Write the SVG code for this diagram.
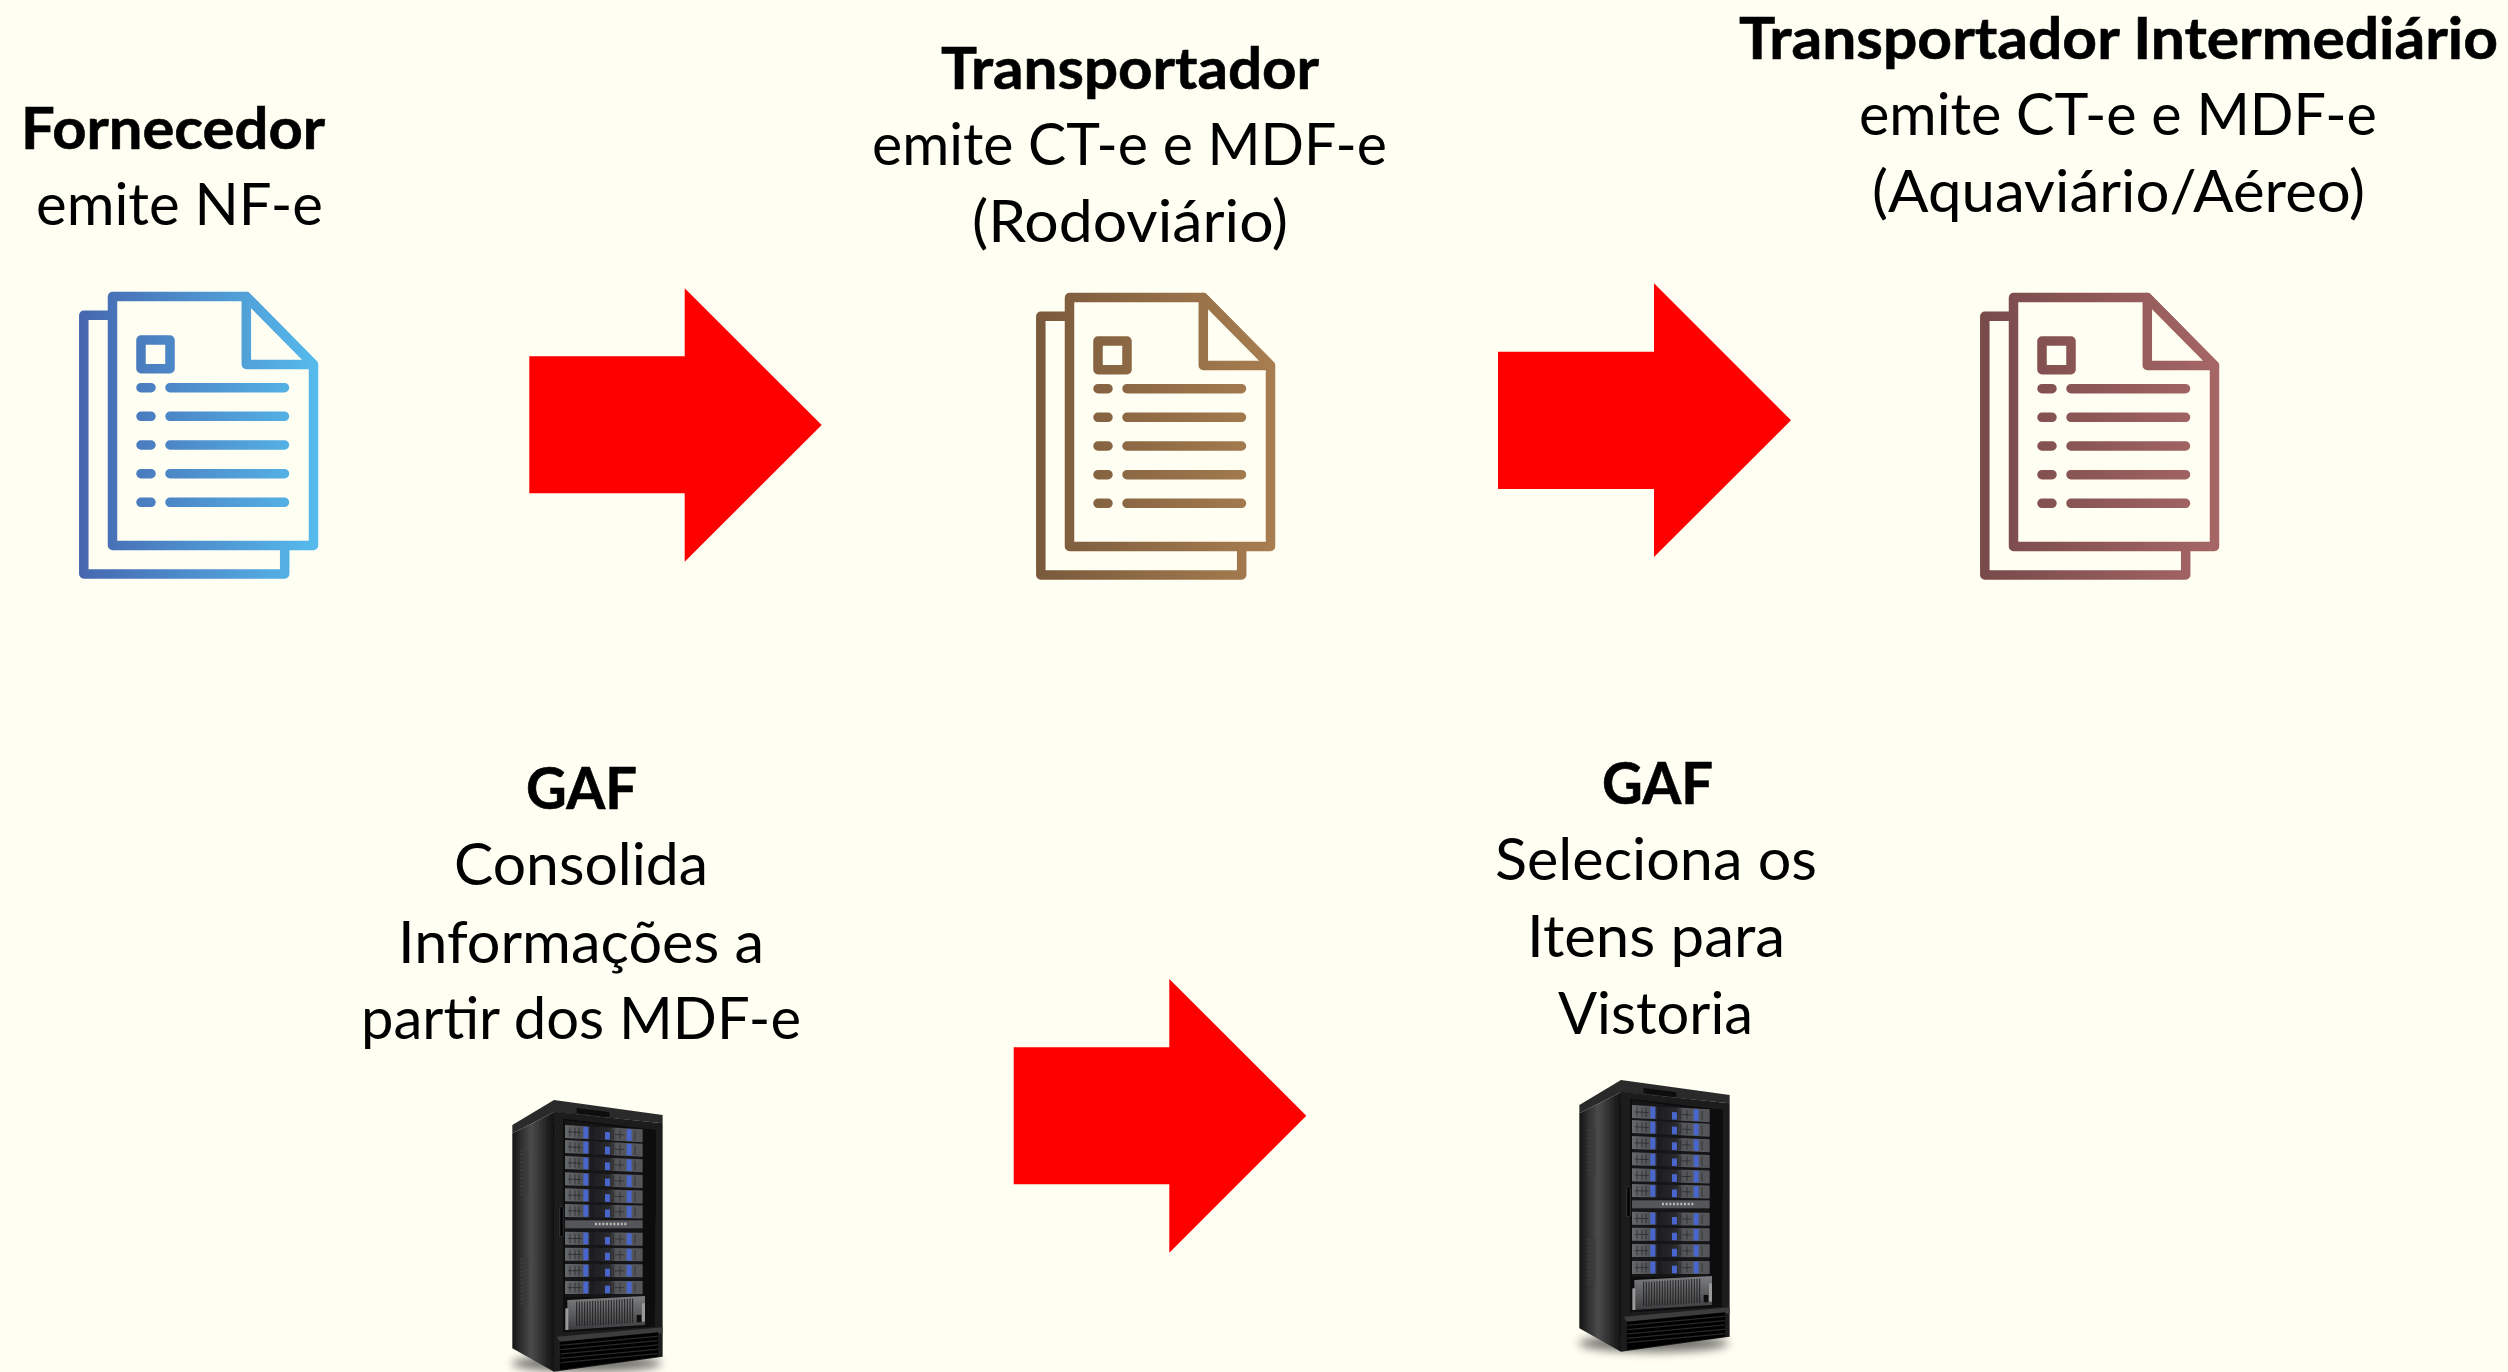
<svg xmlns="http://www.w3.org/2000/svg" xmlns:xlink="http://www.w3.org/1999/xlink" width="2508" height="1372" viewBox="0 0 2508 1372">
<style>
text{font-family:"Lato","Carlito","Open Sans",sans-serif;font-size:58px;fill:#000}
.b{font-weight:700;stroke:#000;stroke-width:.6px}
.arrow{fill:#FF0000}
.doc{fill:none;stroke-width:9.5;stroke-linejoin:round;stroke-linecap:round}
</style>
<defs>
<linearGradient id="gBlue" gradientUnits="userSpaceOnUse" x1="79" y1="0" x2="318" y2="0"><stop offset="0" stop-color="#4667AF"/><stop offset="1" stop-color="#56BBEC"/></linearGradient>
<linearGradient id="gBrown" gradientUnits="userSpaceOnUse" x1="79" y1="0" x2="318" y2="0"><stop offset="0" stop-color="#7A5A3C"/><stop offset="1" stop-color="#A87E50"/></linearGradient>
<linearGradient id="gRose" gradientUnits="userSpaceOnUse" x1="79" y1="0" x2="318" y2="0"><stop offset="0" stop-color="#784A4A"/><stop offset="1" stop-color="#A66666"/></linearGradient>
<g id="doc" class="doc">
<path d="M108,315.3H83.8V574H284.7V550"/>
<path d="M246.3,296.5H112.5V545.5H313.5V364.5Z"/>
<path d="M246.3,296.5L313.5,364.5H246.3Z"/>
<rect x="141" y="340" width="29" height="28.7"/>
<path d="M141,387.7H151M170,387.7H284.5M141,416.3H151M170,416.3H284.5M141,445H151M170,445H284.5M141,473.7H151M170,473.7H284.5M141,502.3H151M170,502.3H284.5"/>
</g>
<linearGradient id="side" x1="0" x2="1" y1="0" y2="0"><stop offset="0" stop-color="#161616"/><stop offset=".45" stop-color="#4b4b4b"/><stop offset="1" stop-color="#111"/></linearGradient>
<linearGradient id="rowG" x1="0" x2="1" y1="0" y2="0"><stop offset="0" stop-color="#66696c"/><stop offset=".28" stop-color="#4b4d50"/><stop offset=".33" stop-color="#1c1d20"/><stop offset=".58" stop-color="#2a2b2e"/><stop offset=".66" stop-color="#55575a"/><stop offset="1" stop-color="#55575a"/></linearGradient>
<linearGradient id="psu" x1="0" x2="0" y1="0" y2="1"><stop offset="0" stop-color="#7c7e80"/><stop offset="1" stop-color="#3c3d3f"/></linearGradient>
<filter id="soft" x="-5%" y="-5%" width="110%" height="110%"><feGaussianBlur stdDeviation="2"/></filter>
<filter id="shadow" x="-30%" y="-100%" width="160%" height="300%"><feGaussianBlur stdDeviation="14"/></filter>
<g id="row">
<rect width="233" height="39" fill="url(#rowG)"/>
<path d="M15,6V34M30,6V34M42,6V34M90,6V34M145,6V34M165,6V34M210,6V34M8,20H50M150,20H178" stroke="#222" stroke-width="2"/>
<rect x="55" y="2" width="15" height="35" fill="#4A66CC"/>
<rect x="120" y="14" width="15" height="23" fill="#4A66CC"/>
<rect x="185" y="2" width="15" height="35" fill="#4A66CC"/>
</g>
<g id="vent" fill="#3a3a3a"><rect width="24" height="7"/><rect y="12" width="24" height="7"/><rect y="24" width="24" height="7"/><rect y="36" width="24" height="7"/><rect y="48" width="24" height="7"/><rect y="60" width="24" height="7"/><rect y="72" width="24" height="7"/><rect y="84" width="24" height="7"/><rect y="96" width="24" height="7"/><rect y="108" width="24" height="7"/><rect y="120" width="24" height="7"/><rect y="132" width="24" height="7"/></g>
<g id="rack">
<ellipse cx="320" cy="850" rx="225" ry="26" fill="#000" opacity=".55" filter="url(#shadow)"/>
<g filter="url(#soft)">
<polygon points="97,135 222,60 548,105 548,130 222,97 97,160" fill="#2b2b2b"/>
<polygon points="290,84 388,97 388,112 290,100" fill="#070707"/>
<polygon points="97,160 222,97 222,875 97,805" fill="url(#side)"/>
<use href="#vent" transform="translate(121,208)"/>
<use href="#vent" transform="translate(121,535)"/>
<polygon points="222,95 548,130 548,830 222,875" fill="#1c1c1c"/>
<polygon points="250,116 528,150 525,740 250,757" fill="#0a0a0b"/>
<polygon points="255,120 488,150 488,650 255,652" fill="#141416"/>
<use href="#row" transform="translate(255,135) skewY(3.2)"/>
<use href="#row" transform="translate(255,180) skewY(2.8)"/>
<use href="#row" transform="translate(255,228) skewY(2.4)"/>
<use href="#row" transform="translate(255,277) skewY(2)"/>
<use href="#row" transform="translate(255,325) skewY(1.6)"/>
<use href="#row" transform="translate(255,372) skewY(1.2)"/>
<rect x="255" y="421" width="233" height="24" fill="#55575a"/>
<path d="M345,432H440" stroke="#bbb" stroke-width="7" stroke-dasharray="6 5"/>
<use href="#row" transform="translate(255,455) skewY(.8)"/>
<use href="#row" transform="translate(255,503) skewY(.5)"/>
<use href="#row" transform="translate(255,552) skewY(.2)"/>
<use href="#row" transform="translate(255,603)"/>
<polygon points="262,660 495,648 495,735 262,750" fill="url(#psu)"/>
<path d="M290,665V738M298,665V738M306,665V738M314,665V738M322,664V737M330,664V737M338,663V737M346,663V736M354,662V736M362,662V735M370,661V735M378,661V734M386,660V734M394,660V733M402,659V733M410,659V732M418,658V731M426,658V731M434,657V730M442,657V730M450,656V729M458,656V729" stroke="#222" stroke-width="3"/>
<rect x="256" y="685" width="9" height="65" fill="#9a9a9a"/>
<rect x="486" y="670" width="9" height="55" fill="#9a9a9a"/>
<rect x="470" y="705" width="14" height="22" fill="#111"/>
<polygon points="230,770 548,742 548,760 240,785" fill="#3c3c3c"/>
<polygon points="240,785 535,757 535,830 240,870" fill="#050505"/>
<path d="M242,796L533,769M242,809L533,782M242,822L533,795M242,835L533,808M242,848L533,821" stroke="#2e2e2e" stroke-width="3"/>
<rect x="239" y="380" width="11" height="90" rx="3" fill="#050505" stroke="#444" stroke-width="2"/>
</g>
</g>
</defs>
<rect width="2508" height="1372" fill="#FFFEF3"/>
<g id="connectors">
<polygon class="arrow" points="529.3,356.3 684.7,356.3 684.7,288.3 821.7,425 684.7,561.7 684.7,493.3 529.3,493.3"/>
<polygon class="arrow" points="1498,351.7 1654,351.7 1654,283.3 1791,420.3 1654,557 1654,489 1498,489"/>
<polygon class="arrow" points="1013.7,1047.3 1169.3,1047.3 1169.3,979 1306.3,1115.7 1169.3,1252.7 1169.3,1184.3 1013.7,1184.3"/>
</g>
<g id="node-fornecedor">
<text class="b" x="21" y="149" textLength="304" lengthAdjust="spacingAndGlyphs">Fornecedor</text>
<text x="36" y="225" textLength="287" lengthAdjust="spacingAndGlyphs">emite NF-e</text>
<use href="#doc" stroke="url(#gBlue)"/>
</g>
<g id="node-transportador">
<text class="b" x="941" y="89.3" textLength="378" lengthAdjust="spacingAndGlyphs">Transportador</text>
<text x="872" y="165" textLength="515" lengthAdjust="spacingAndGlyphs">emite CT-e e MDF-e</text>
<text x="972" y="242" textLength="316" lengthAdjust="spacingAndGlyphs">(Rodoviário)</text>
<use href="#doc" transform="translate(957,1)" stroke="url(#gBrown)"/>
</g>
<g id="node-intermediario">
<text class="b" x="1739" y="59.3" textLength="759" lengthAdjust="spacingAndGlyphs">Transportador Intermediário</text>
<text x="1859" y="135.3" textLength="518" lengthAdjust="spacingAndGlyphs">emite CT-e e MDF-e</text>
<text x="1872" y="212" textLength="493" lengthAdjust="spacingAndGlyphs">(Aquaviário/Aéreo)</text>
<use href="#doc" transform="translate(1901,1)" stroke="url(#gRose)"/>
</g>
<g id="node-gaf-consolida">
<text class="b" x="526" y="809.3" textLength="111" lengthAdjust="spacingAndGlyphs">GAF</text>
<text x="454" y="885.3" textLength="254" lengthAdjust="spacingAndGlyphs">Consolida</text>
<text x="398" y="962.7" textLength="366" lengthAdjust="spacingAndGlyphs">Informações a</text>
<text x="361" y="1039.3" textLength="440" lengthAdjust="spacingAndGlyphs">partir dos MDF-e</text>
<use href="#rack" transform="translate(480,1080) scale(.3333)"/>
</g>
<g id="node-gaf-seleciona">
<text class="b" x="1602" y="804" textLength="111" lengthAdjust="spacingAndGlyphs">GAF</text>
<text x="1495" y="880" textLength="322" lengthAdjust="spacingAndGlyphs">Seleciona os</text>
<text x="1527" y="957" textLength="258" lengthAdjust="spacingAndGlyphs">Itens para</text>
<text x="1558" y="1034" textLength="195" lengthAdjust="spacingAndGlyphs">Vistoria</text>
<use href="#rack" transform="translate(1547,1060) scale(.3333)"/>
</g>
</svg>
